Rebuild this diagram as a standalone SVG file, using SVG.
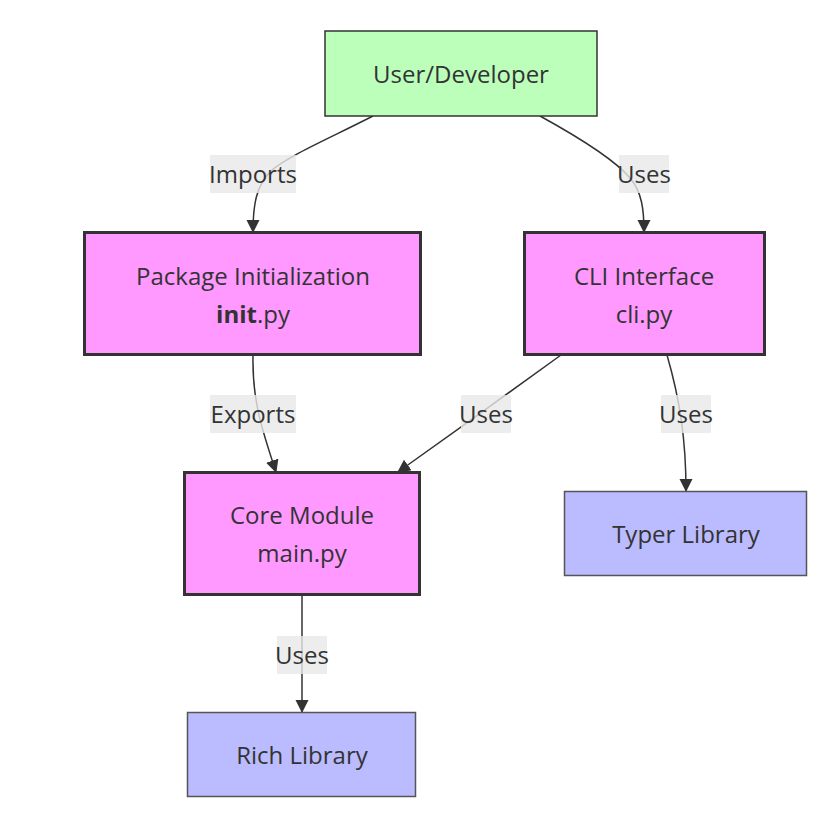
<svg xmlns="http://www.w3.org/2000/svg" width="838" height="826" viewBox="0 0 838 826">
<defs>
<marker id="arr" markerUnits="userSpaceOnUse" markerWidth="14" markerHeight="14" refX="12" refY="6.5" orient="auto">
<path d="M0,0 L13,6.5 L0,13 z" fill="#333"/>
</marker>
<style>
.t{font-family:"Open Sans","DejaVu Sans",sans-serif;font-size:24px;fill:#333;text-anchor:middle}
.e{fill:none;stroke:#333;stroke-width:1.5;marker-end:url(#arr)}
.lb{fill:#e8e8e8;fill-opacity:0.8}
.green{fill:#bbffbb;stroke:#333;stroke-width:1.5}
.pink{fill:#ff99ff;stroke:#333;stroke-width:3}
.blue{fill:#bbbbff;stroke:#555;stroke-width:1.5}
</style>
</defs>
<rect width="838" height="826" fill="#fff"/>
<g id="connectors">
<path class="e" d="M373,116 C330,138 290,155 272,170 C256,185 253,205 253,232"/>
<path class="e" d="M540,116 C580,138 615,160 630,178 C642,192 644,210 644,232"/>
<path class="e" d="M253,355 C252,400 262,430 276,472"/>
<path class="e" d="M561,355 C520,385 440,442 398,472"/>
<path class="e" d="M667,355 C680,400 686,440 686,491"/>
<path class="e" d="M302,595 L302,712"/>
<g id="labels">
<rect class="lb" x="210" y="155" width="86" height="38"/><text class="t" x="253" y="183">Imports</text>
<rect class="lb" x="619" y="155" width="50" height="38"/><text class="t" x="644" y="183">Uses</text>
<rect class="lb" x="210" y="395" width="86" height="38"/><text class="t" x="253" y="423">Exports</text>
<rect class="lb" x="461" y="395" width="50" height="38"/><text class="t" x="486" y="423">Uses</text>
<rect class="lb" x="661" y="395" width="50" height="38"/><text class="t" x="686" y="423">Uses</text>
<rect class="lb" x="277" y="636" width="50" height="38"/><text class="t" x="302" y="664">Uses</text>
</g>
</g>
<g id="user">
<rect class="green" x="325" y="31" width="272" height="85"/>
<text class="t" x="461" y="83">User/Developer</text>
</g>
<g id="pkg">
<rect class="pink" x="84.5" y="232.5" width="336" height="122"/>
<text class="t" x="253" y="285">Package Initialization</text>
<text class="t" x="253" y="323"><tspan font-weight="bold">init</tspan>.py</text>
</g>
<g id="cli">
<rect class="pink" x="524.5" y="232.5" width="240" height="122"/>
<text class="t" x="644" y="285">CLI Interface</text>
<text class="t" x="644" y="323">cli.py</text>
</g>
<g id="core">
<rect class="pink" x="184.5" y="472.5" width="235" height="122"/>
<text class="t" x="302" y="524">Core Module</text>
<text class="t" x="302" y="562">main.py</text>
</g>
<g id="typer">
<rect class="blue" x="564.5" y="491.5" width="242" height="84"/>
<text class="t" x="686" y="543">Typer Library</text>
</g>
<g id="rich">
<rect class="blue" x="187.5" y="712.5" width="228" height="84"/>
<text class="t" x="302" y="764">Rich Library</text>
</g>
</svg>
